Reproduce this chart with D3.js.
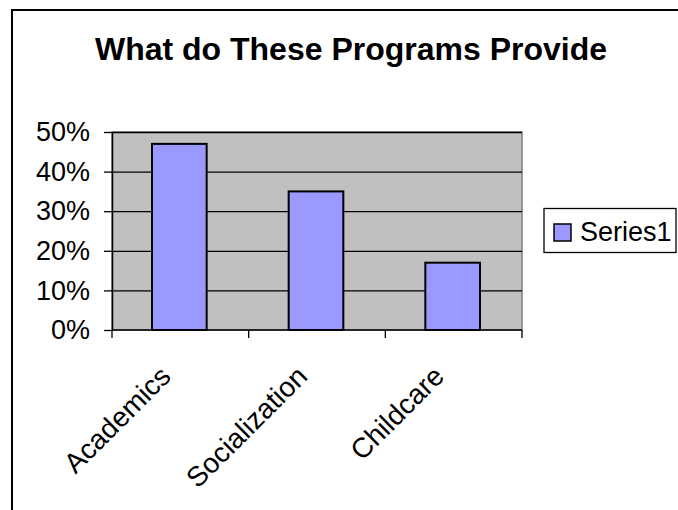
<!DOCTYPE html>
<html>
<head>
<meta charset="utf-8">
<script src="https://cdn.jsdelivr.net/npm/d3@7"></script>
<style>
  body { margin: 0; background: #fff; }
  svg text { font-family: "Liberation Sans", Arial, sans-serif; fill: #000; }
</style>
</head>
<body>
<div id="chart"></div>
<script>
var categories = ["Academics", "Socialization", "Childcare"];
var values = [0.47, 0.35, 0.17];
var yTicks = [0, 0.1, 0.2, 0.3, 0.4, 0.5];
var seriesName = "Series1";
var title = "What do These Programs Provide";

var width = 678, height = 510;
var plot = { left: 112, right: 522, top: 132, bottom: 330 };

var svg = d3.select("#chart")
  .append("svg")
  .attr("width", width)
  .attr("height", height);

// outer chart border (right and bottom fall outside the picture)
svg.append("rect")
  .attr("x", 12)
  .attr("y", 10)
  .attr("width", 700)
  .attr("height", 600)
  .attr("fill", "#fff")
  .attr("stroke", "#000")
  .attr("stroke-width", 2);

svg.append("text")
  .attr("x", 351)
  .attr("y", 60)
  .attr("text-anchor", "middle")
  .style("font-size", "32px")
  .style("font-weight", "bold")
  .text(title);

var xScale = d3.scaleBand()
  .domain(categories)
  .range([plot.left, plot.right])
  .padding(0);

var yScale = d3.scaleLinear()
  .domain([0, 0.5])
  .range([plot.bottom, plot.top]);

// plot area
svg.append("rect")
  .attr("x", plot.left)
  .attr("y", plot.top)
  .attr("width", plot.right - plot.left)
  .attr("height", plot.bottom - plot.top)
  .attr("fill", "#c0c0c0")
  .attr("stroke", "#808080")
  .attr("stroke-width", 1.5);

// gridlines
svg.append("g")
  .attr("class", "y grid")
  .attr("transform", "translate(" + plot.left + ",0)")
  .call(d3.axisLeft(yScale)
    .tickValues(yTicks.slice(1))
    .tickSize(-(plot.right - plot.left))
    .tickFormat(""))
  .call(function(g) {
    g.select(".domain").remove();
    g.selectAll("line").attr("stroke", "#000").attr("stroke-width", 1.3);
  });

// bars
var barW = xScale.bandwidth() * 0.4;
svg.selectAll(".bar")
  .data(values)
  .enter().append("rect")
  .attr("class", "bar")
  .attr("x", function(d, i) {
    return xScale(categories[i]) + (xScale.bandwidth() - barW) / 2 - 1;
  })
  .attr("y", function(d) { return yScale(d); })
  .attr("width", barW)
  .attr("height", function(d) { return yScale(0) - yScale(d); })
  .attr("fill", "#9999ff")
  .attr("stroke", "#000")
  .attr("stroke-width", 2);

// y axis
svg.append("g")
  .attr("class", "y axis")
  .attr("transform", "translate(" + plot.left + ",0)")
  .call(d3.axisLeft(yScale)
    .tickValues(yTicks)
    .tickSize(8)
    .tickSizeOuter(0)
    .tickPadding(14)
    .tickFormat(d3.format(".0%")))
  .call(function(g) {
    g.select(".domain").attr("stroke", "#000").attr("stroke-width", 1.5);
    g.selectAll("line").attr("stroke", "#000").attr("stroke-width", 1.3);
    g.selectAll("text")
      .style("font-size", "27px")
      .style("font-family", "'Liberation Sans', Arial, sans-serif")
      .attr("fill", "#000");
  });

// x axis with ticks between categories
var boundaries = categories.map(function(c) { return xScale(c); }).concat([plot.right]);
var xAxis = svg.append("g")
  .attr("class", "x axis");

xAxis.append("line")
  .attr("x1", plot.left)
  .attr("x2", plot.right)
  .attr("y1", plot.bottom)
  .attr("y2", plot.bottom)
  .attr("stroke", "#000")
  .attr("stroke-width", 1.5);

xAxis.selectAll(".tick-mark")
  .data(boundaries)
  .enter().append("line")
  .attr("class", "tick-mark")
  .attr("x1", function(d) { return d; })
  .attr("x2", function(d) { return d; })
  .attr("y1", plot.bottom)
  .attr("y2", plot.bottom + 8)
  .attr("stroke", "#000")
  .attr("stroke-width", 1.3);

xAxis.selectAll(".cat-label")
  .data(categories)
  .enter().append("text")
  .attr("class", "cat-label")
  .attr("text-anchor", "end")
  .attr("transform", function(d) {
    return "translate(" + (xScale(d) + xScale.bandwidth() / 2 - 8) + ",378) rotate(-45)";
  })
  .style("font-size", "28px")
  .text(function(d) { return d; });

// legend
var legend = svg.append("g").attr("class", "legend");
legend.append("rect")
  .attr("x", 544)
  .attr("y", 208.5)
  .attr("width", 132)
  .attr("height", 44)
  .attr("fill", "#fff")
  .attr("stroke", "#000")
  .attr("stroke-width", 1.3);
legend.append("rect")
  .attr("x", 554)
  .attr("y", 224)
  .attr("width", 17)
  .attr("height", 17)
  .attr("fill", "#9999ff")
  .attr("stroke", "#000")
  .attr("stroke-width", 1.5);
legend.append("text")
  .attr("x", 580)
  .attr("y", 241)
  .style("font-size", "27px")
  .text(seriesName);
</script>
</body>
</html>
